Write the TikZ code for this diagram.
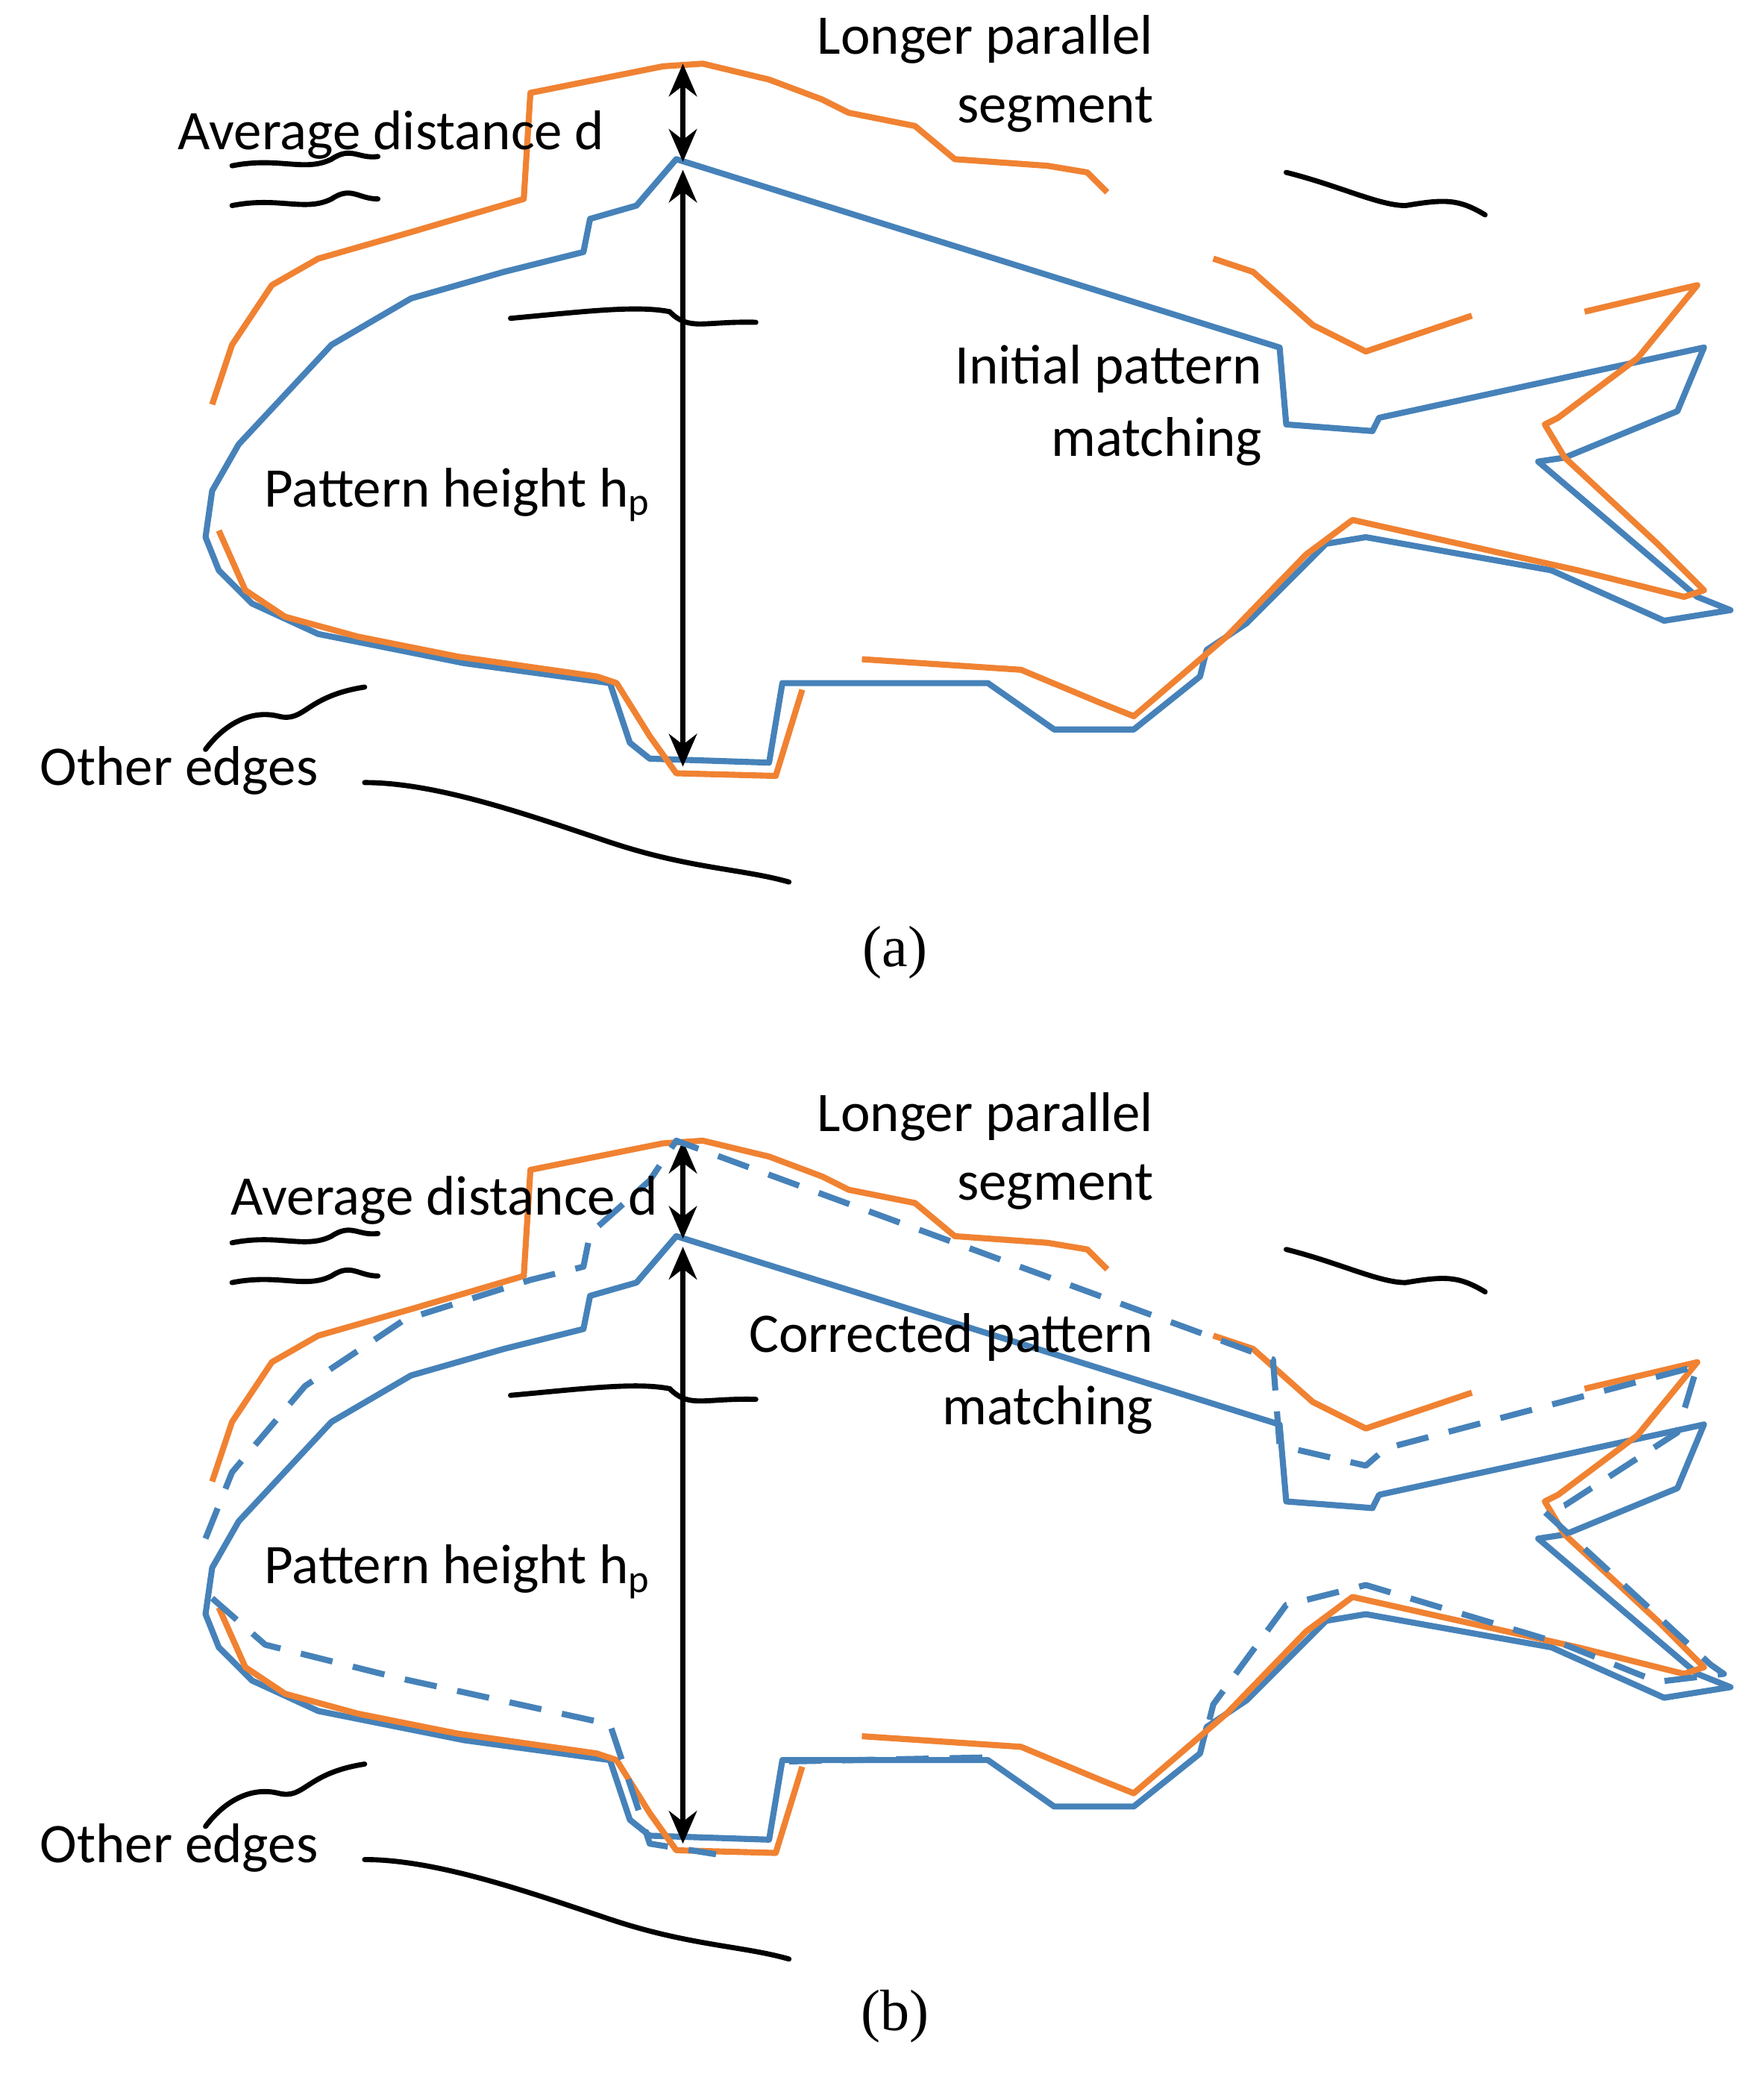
\documentclass[tikz,border=0pt]{standalone}
\usepackage{fontspec}
\setmainfont{Carlito}
\newfontfamily\capfont{Liberation Serif}
\usetikzlibrary{arrows.meta}
\definecolor{fblue}{RGB}{70,130,185}
\definecolor{forange}{RGB}{240,130,50}
\tikzset{
 bl/.style={fblue,line width=2.6pt,line join=round},
 orl/.style={forange,line width=2.6pt,line join=round},
 edge/.style={black,line width=2.2pt,line cap=round},
 dim/.style={black,line width=2.2pt,{Stealth[length=14pt,width=12pt]}-{Stealth[length=14pt,width=12pt]}},
 lab/.style={font=\fontsize{24}{28}\selectfont,inner sep=0pt},
 captxt/.style={font=\capfont\fontsize{25}{28}\selectfont,inner sep=0pt}
}
\newcommand{\fishparts}{%
 \draw[bl] (510,120) -- (965,262) -- (970,320) -- (1035,325) -- (1040,315) -- (1285,262) -- (1265,310) -- (1180,345) -- (1160,348) -- (1280,450) -- (1305,460) -- (1255,468) -- (1170,430) -- (1030,405) -- (1000,410) -- (940,470) -- (910,490) -- (905,510) -- (855,550) -- (795,550) -- (745,515) -- (605,515) -- (590,515) -- (580,575) -- (490,572) -- (475,560) -- (460,515) -- (350,500) -- (240,478) -- (190,455) -- (165,430) -- (155,405) -- (160,370) -- (180,335) -- (250,260) -- (310,225) -- (380,205) -- (440,190) -- (445,165) -- (480,155) -- cycle;
 \draw[orl] (160,305) -- (175,260) -- (205,215) -- (240,195) -- (310,175) -- (395,150) -- (400,70) -- (500,50) -- (530,48) -- (580,60) -- (620,75) -- (640,85) -- (690,95) -- (720,120) -- (790,125) -- (820,130) -- (835,145);
 \draw[orl] (915,195) -- (945,205) -- (990,245) -- (1030,265) -- (1110,238);
 \draw[orl] (1195,235) -- (1280,215) -- (1235,270) -- (1175,315) -- (1165,320) -- (1180,345) -- (1250,410) -- (1285,445) -- (1270,450) -- (1190,430) -- (1020,392) -- (985,418) -- (925,480) -- (855,540) -- (830,530) -- (770,505) -- (650,497);
 \draw[orl] (165,400) -- (185,445) -- (215,465) -- (270,480) -- (345,495) -- (450,510) -- (465,515) -- (490,555) -- (510,583) -- (585,585) -- (605,520);
 \coordinate (t1) at (515,48); \coordinate (t2) at (515,122);
 \coordinate (h1) at (515,128); \coordinate (h2) at (515,578);
 \draw[dim] (t1) -- (t2);
 \draw[dim] (h1) -- (h2);
 \draw[edge] (175,155) .. controls (210,148) and (230,160) .. (250,150) .. controls (265,140) and (270,150) .. (285,150);
 \draw[edge] (385,240) .. controls (440,235) and (480,230) .. (505,235) .. controls (520,250) and (530,242) .. (570,243);
 \draw[edge] (970,130) .. controls (1010,140) and (1040,155) .. (1060,155) .. controls (1090,150) and (1100,150) .. (1120,162);
 \draw[edge] (155,565) .. controls (170,545) and (190,535) .. (210,540) .. controls (230,545) and (230,525) .. (275,518);
 \draw[edge] (275,590) .. controls (330,590) and (400,615) .. (460,635) .. controls (520,655) and (560,655) .. (595,665);
 \node[lab,anchor=east] (lp1) at (870,30) {Longer parallel};
 \node[lab,anchor=east] (lp2) at (870,83) {segment};
 \node[lab] (ph) at (345,373) {Pattern height h\textsubscript{p}};
 \node[lab] (oe) at (135,581) {Other edges};
}
\begin{document}
\begin{tikzpicture}[x=0.02cm,y=-0.02cm]
\path[use as bounding box] (0,0) rectangle (1330,1575);
% (a)
\fishparts
\draw[edge] (175,125) .. controls (210,118) and (230,130) .. (250,120) .. controls (265,110) and (270,120) .. (285,118);
\node[lab] (ad) at (295,102) {Average distance d};
\node[lab,anchor=east] (ip1) at (952,278) {Initial pattern};
\node[lab,anchor=east] (ip2) at (952,333) {matching};
\node[captxt] (ca) at (675,718) {(a)};
% (b)
\begin{scope}[yshift=-812*0.02cm]
\fishparts
\draw[edge] (175,125) .. controls (210,118) and (230,130) .. (250,120) .. controls (265,110) and (270,120) .. (285,118);
\end{scope}
\draw[bl,dashed,dash pattern=on 14pt off 9pt] (155,1160) -- (175,1110) -- (230,1045) -- (305,995) -- (400,965) -- (440,955) -- (445,930) -- (490,890) -- (510,860) -- (960,1025) -- (965,1090) -- (1030,1105) -- (1045,1092) -- (1280,1030) -- (1265,1080) -- (1180,1135) -- (1165,1140) -- (1290,1255) -- (1300,1262) -- (1250,1268) -- (1180,1240) -- (1030,1195) -- (970,1210) -- (915,1285) -- (910,1305);
\draw[bl,dashed,dash pattern=on 14pt off 9pt] (160,1205) -- (200,1240) -- (300,1265) -- (460,1300) -- (490,1390) -- (540,1398);
\draw[bl,dashed,dash pattern=on 14pt off 9pt] (595,1328) -- (745,1325);
\node[lab] (adb) at (335,905) {Average distance d};
\node[lab,anchor=east] (cp1) at (870,1008) {Corrected pattern};
\node[lab,anchor=east] (cp2) at (870,1063) {matching};
\node[captxt] (cb) at (675,1520) {(b)};
\end{tikzpicture}
\end{document}
